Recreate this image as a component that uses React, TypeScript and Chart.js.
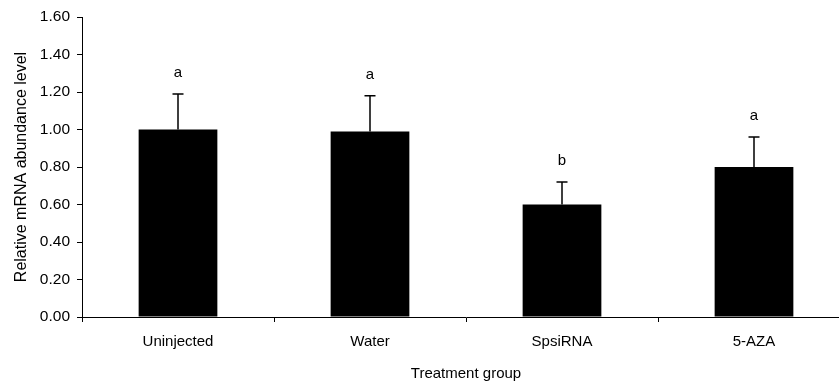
import React, { useEffect, useRef } from "react";
import { Chart, registerables } from "chart.js";

Chart.register(...registerables);

const categories = ["Uninjected", "Water", "SpsiRNA", "5-AZA"];
const means = [1.0, 0.99, 0.6, 0.8];
const errors = [0.19, 0.19, 0.12, 0.16];
const letters = ["a", "a", "b", "a"];
const yMin = 0;
const yMax = 1.6;
const yStep = 0.2;
const yTitle = "Relative mRNA abundance level";
const xTitle = "Treatment group";

const FONT = "'Liberation Sans', Arial, Helvetica, sans-serif";

const errorBarPlugin = {
  id: "errorBars",
  afterDatasetsDraw(chart: any) {
    const ctx = chart.ctx;
    const x = chart.scales.x;
    const y = chart.scales.y;
    ctx.save();
    means.forEach((m, i) => {
      const cx = x.getPixelForValue(i);
      const y0 = y.getPixelForValue(m);
      const y1 = y.getPixelForValue(m + errors[i]);
      ctx.strokeStyle = "#000";
      ctx.lineWidth = 1.5;
      ctx.beginPath();
      ctx.moveTo(cx, y0);
      ctx.lineTo(cx, y1);
      ctx.moveTo(cx - 5.5, y1);
      ctx.lineTo(cx + 5.5, y1);
      ctx.stroke();
      ctx.fillStyle = "#000";
      ctx.font = `15px ${FONT}`;
      ctx.textAlign = "center";
      ctx.textBaseline = "middle";
      ctx.fillText(letters[i], cx, y1 - 21);
    });
    ctx.restore();
  },
};

export default function App() {
  const ref = useRef<HTMLCanvasElement | null>(null);

  useEffect(() => {
    if (!ref.current) return;
    const chart = new Chart(ref.current, {
      type: "bar",
      data: {
        labels: categories,
        datasets: [
          {
            data: means,
            backgroundColor: "#000",
            borderWidth: 0,
            barPercentage: 0.41,
            categoryPercentage: 1.0,
          },
        ],
      },
      options: {
        responsive: false,
        animation: false,
        devicePixelRatio: 1,
        layout: { padding: { top: 17, right: 2, left: 0, bottom: 0 } },
        plugins: {
          legend: { display: false },
          tooltip: { enabled: false },
        },
        scales: {
          x: {
            afterFit: (s: any) => {
              s.height = 66;
            },
            border: { display: true, color: "#000", width: 1 },
            grid: {
              offset: true,
              drawOnChartArea: false,
              drawTicks: true,
              tickLength: 5,
              color: "#000",
            },
            ticks: {
              color: "#000",
              font: { family: FONT, size: 15 },
              padding: 11,
              maxRotation: 0,
            },
            title: {
              display: true,
              text: xTitle,
              color: "#000",
              font: { family: FONT, size: 15 },
              padding: 0,
            },
          },
          y: {
            min: yMin,
            max: yMax,
            afterFit: (s: any) => {
              s.width = 82;
            },
            border: { display: true, color: "#000", width: 1 },
            grid: {
              drawOnChartArea: false,
              drawTicks: true,
              tickLength: 5,
              color: "#000",
            },
            ticks: {
              stepSize: yStep,
              color: "#000",
              font: { family: FONT, size: 15.5 },
              padding: 7,
              callback: (v: any) => Number(v).toFixed(2),
            },
            title: {
              display: true,
              text: yTitle,
              color: "#000",
              font: { family: FONT, size: 16 },
              padding: { top: 12, bottom: 0 },
            },
          },
        },
      },
      plugins: [errorBarPlugin],
    });
    return () => chart.destroy();
  }, []);

  return (
    <div
      style={{
        position: "fixed",
        left: 0,
        top: 0,
        width: 839,
        height: 381,
        overflow: "hidden",
        background: "#fff",
      }}
    >
      <canvas
        ref={ref}
        width={852}
        height={383}
        style={{ width: 852, height: 383, display: "block" }}
      />
    </div>
  );
}
